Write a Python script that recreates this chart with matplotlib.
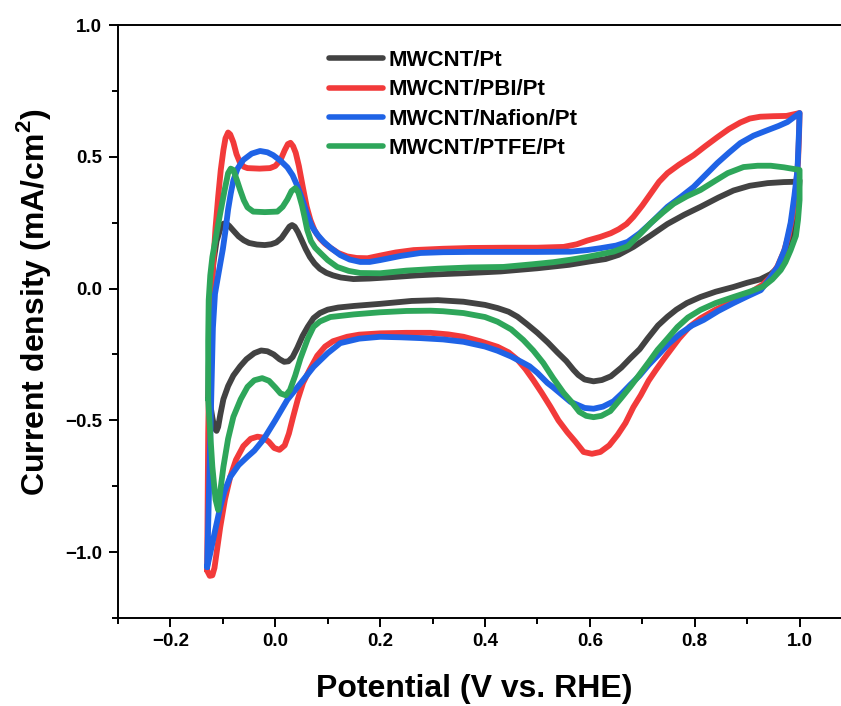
import matplotlib
matplotlib.use("Agg")
import matplotlib.pyplot as plt
from matplotlib.ticker import MultipleLocator

plt.rcParams['font.family'] = ['Liberation Sans', 'DejaVu Sans']
plt.rcParams['font.weight'] = 'bold'
plt.rcParams['axes.labelweight'] = 'bold'
plt.rcParams['mathtext.fontset'] = 'custom'
plt.rcParams['mathtext.bf'] = 'Liberation Sans:bold'
plt.rcParams['mathtext.rm'] = 'Liberation Sans:bold'

labels = ["MWCNT/Pt", "MWCNT/PBI/Pt", "MWCNT/Nafion/Pt", "MWCNT/PTFE/Pt"]
colors = ["#424242", "#f23a3a", "#1f63e6", "#2ea65a"]

# ---- MWCNT/Pt : anodic (up) and cathodic (dn) branches, (potential, current) ----
pt_up = [(-0.128, -0.42), (-0.127, -0.3), (-0.125, -0.15), (-0.122, 0.0), (-0.118, 0.1), (-0.112, 0.18),
         (-0.105, 0.225), (-0.099, 0.246), (-0.094, 0.248), (-0.088, 0.238), (-0.08, 0.22), (-0.07, 0.198),
         (-0.06, 0.183), (-0.05, 0.173), (-0.035, 0.167), (-0.02, 0.165), (-0.008, 0.168), (0.002, 0.175),
         (0.012, 0.192), (0.02, 0.215), (0.027, 0.235), (0.032, 0.241), (0.037, 0.235), (0.043, 0.215),
         (0.05, 0.185), (0.058, 0.15), (0.066, 0.12), (0.075, 0.095), (0.085, 0.075), (0.097, 0.06),
         (0.11, 0.05), (0.125, 0.042), (0.149, 0.036), (0.18, 0.038), (0.22, 0.043), (0.27, 0.05),
         (0.31, 0.054), (0.37, 0.059), (0.43, 0.065), (0.5, 0.077), (0.56, 0.09), (0.6, 0.103),
         (0.63, 0.112), (0.655, 0.128), (0.683, 0.158), (0.715, 0.2), (0.748, 0.245), (0.78, 0.28),
         (0.811, 0.31), (0.845, 0.345), (0.874, 0.372), (0.905, 0.39), (0.939, 0.40), (0.97, 0.404),
         (0.989, 0.405), (1.0, 0.41)]
pt_dn = [(1.0, 0.41), (0.997, 0.33), (0.992, 0.25), (0.985, 0.18), (0.975, 0.125), (0.962, 0.085),
         (0.945, 0.055), (0.925, 0.035), (0.9, 0.022), (0.874, 0.006), (0.84, -0.012), (0.811, -0.032),
         (0.785, -0.055), (0.765, -0.08), (0.748, -0.107), (0.73, -0.14), (0.71, -0.19), (0.695, -0.23),
         (0.677, -0.265), (0.66, -0.3), (0.64, -0.333), (0.623, -0.347), (0.607, -0.352), (0.59, -0.345),
         (0.578, -0.328), (0.569, -0.309), (0.555, -0.275), (0.538, -0.242), (0.52, -0.205), (0.5, -0.168),
         (0.48, -0.135), (0.462, -0.107), (0.445, -0.088), (0.424, -0.074), (0.4, -0.062), (0.359, -0.05),
         (0.31, -0.044), (0.26, -0.047), (0.2, -0.058), (0.15, -0.066), (0.12, -0.072), (0.1, -0.08),
         (0.085, -0.093), (0.073, -0.112), (0.062, -0.145), (0.052, -0.18), (0.042, -0.225), (0.033, -0.26),
         (0.025, -0.276), (0.017, -0.278), (0.008, -0.268), (-0.003, -0.25), (-0.015, -0.238),
         (-0.027, -0.235), (-0.04, -0.245), (-0.055, -0.268), (-0.067, -0.295), (-0.08, -0.33),
         (-0.09, -0.37), (-0.099, -0.42), (-0.105, -0.48), (-0.109, -0.525), (-0.112, -0.54),
         (-0.116, -0.53), (-0.12, -0.49), (-0.124, -0.44), (-0.128, -0.42)]

# ---- MWCNT/PBI/Pt ----
pbi_up = [(-0.13, -1.07), (-0.129, -0.8), (-0.128, -0.55), (-0.126, -0.3), (-0.124, -0.12), (-0.121, 0.0),
          (-0.118, 0.108), (-0.114, 0.23), (-0.109, 0.347), (-0.104, 0.45), (-0.099, 0.525), (-0.095, 0.57),
          (-0.09, 0.592), (-0.086, 0.585), (-0.08, 0.555), (-0.074, 0.51), (-0.067, 0.476), (-0.06, 0.462),
          (-0.053, 0.457), (-0.03, 0.455), (-0.01, 0.457), (0.0, 0.465), (0.01, 0.488), (0.018, 0.525),
          (0.024, 0.548), (0.029, 0.553), (0.034, 0.54), (0.039, 0.515), (0.045, 0.465), (0.053, 0.38),
          (0.06, 0.31), (0.067, 0.26), (0.075, 0.22), (0.085, 0.19), (0.095, 0.17), (0.105, 0.155),
          (0.12, 0.135), (0.137, 0.122), (0.155, 0.116), (0.176, 0.115), (0.2, 0.125), (0.23, 0.137),
          (0.264, 0.146), (0.32, 0.151), (0.372, 0.154), (0.44, 0.155), (0.5, 0.155), (0.55, 0.158),
          (0.575, 0.168), (0.595, 0.182), (0.62, 0.196), (0.64, 0.21), (0.655, 0.225), (0.67, 0.245),
          (0.683, 0.272), (0.7, 0.315), (0.716, 0.36), (0.732, 0.405), (0.748, 0.438), (0.77, 0.47),
          (0.798, 0.506), (0.82, 0.54), (0.843, 0.574), (0.865, 0.605), (0.887, 0.63), (0.905, 0.645),
          (0.925, 0.652), (0.95, 0.654), (0.975, 0.655), (1.0, 0.666)]
pbi_dn = [(1.0, 0.666), (0.999, 0.58), (0.997, 0.48), (0.993, 0.38), (0.987, 0.28), (0.979, 0.2),
          (0.97, 0.14), (0.958, 0.085), (0.945, 0.045), (0.93, 0.015), (0.91, -0.01), (0.874, -0.048),
          (0.84, -0.08), (0.811, -0.113), (0.79, -0.145), (0.77, -0.19), (0.755, -0.23), (0.74, -0.27),
          (0.726, -0.309), (0.712, -0.35), (0.697, -0.405), (0.683, -0.45), (0.668, -0.51), (0.653, -0.555),
          (0.637, -0.595), (0.62, -0.62), (0.604, -0.627), (0.588, -0.62), (0.572, -0.58), (0.557, -0.545),
          (0.54, -0.5), (0.525, -0.449), (0.508, -0.395), (0.492, -0.347), (0.477, -0.305), (0.462, -0.27),
          (0.445, -0.242), (0.424, -0.221), (0.391, -0.2), (0.359, -0.183), (0.33, -0.174), (0.296, -0.168),
          (0.25, -0.168), (0.2, -0.17), (0.16, -0.175), (0.137, -0.183), (0.11, -0.2), (0.095, -0.22),
          (0.08, -0.255), (0.065, -0.31), (0.053, -0.358), (0.043, -0.42), (0.034, -0.487), (0.026, -0.55),
          (0.018, -0.595), (0.008, -0.612), (-0.002, -0.605), (-0.012, -0.582), (-0.022, -0.566),
          (-0.034, -0.562), (-0.047, -0.57), (-0.061, -0.598), (-0.075, -0.65), (-0.086, -0.715),
          (-0.096, -0.8), (-0.105, -0.905), (-0.111, -0.99), (-0.116, -1.06), (-0.12, -1.088),
          (-0.125, -1.09), (-0.13, -1.07)]

# ---- MWCNT/Nafion/Pt ----
naf_up = [(-0.13, -1.057), (-0.128, -0.9), (-0.125, -0.65), (-0.122, -0.4), (-0.119, -0.15), (-0.115, -0.02),
          (-0.108, 0.06), (-0.1, 0.15), (-0.095, 0.22), (-0.09, 0.3), (-0.085, 0.36), (-0.08, 0.41),
          (-0.072, 0.455), (-0.061, 0.488), (-0.045, 0.512), (-0.029, 0.522), (-0.015, 0.517), (-0.004, 0.506),
          (0.01, 0.485), (0.023, 0.46), (0.033, 0.43), (0.042, 0.39), (0.052, 0.335), (0.061, 0.28),
          (0.07, 0.235), (0.08, 0.205), (0.092, 0.178), (0.105, 0.155), (0.124, 0.127), (0.142, 0.11),
          (0.162, 0.101), (0.18, 0.101), (0.2, 0.108), (0.24, 0.124), (0.277, 0.135), (0.32, 0.138),
          (0.372, 0.139), (0.5, 0.139), (0.563, 0.14), (0.595, 0.146), (0.62, 0.153), (0.65, 0.163),
          (0.672, 0.177), (0.695, 0.21), (0.716, 0.248), (0.748, 0.31), (0.775, 0.35), (0.798, 0.386),
          (0.82, 0.43), (0.843, 0.476), (0.865, 0.515), (0.887, 0.552), (0.912, 0.58), (0.939, 0.601),
          (0.96, 0.617), (0.977, 0.632), (1.0, 0.666)]
naf_dn = [(1.0, 0.666), (0.999, 0.6), (0.998, 0.55), (0.996, 0.45), (0.99, 0.35), (0.983, 0.25), (0.972, 0.15),
          (0.958, 0.082), (0.94, 0.03), (0.926, -0.006), (0.9, -0.03), (0.874, -0.055), (0.845, -0.085),
          (0.817, -0.119), (0.795, -0.14), (0.773, -0.17), (0.75, -0.21), (0.729, -0.255), (0.712, -0.29),
          (0.695, -0.33), (0.677, -0.365), (0.66, -0.4), (0.645, -0.428), (0.625, -0.448), (0.607, -0.456),
          (0.59, -0.453), (0.575, -0.44), (0.563, -0.43), (0.545, -0.4), (0.53, -0.375), (0.519, -0.358),
          (0.5, -0.32), (0.485, -0.295), (0.473, -0.282), (0.45, -0.258), (0.424, -0.236), (0.4, -0.22),
          (0.359, -0.202), (0.32, -0.193), (0.277, -0.188), (0.24, -0.185), (0.2, -0.183), (0.16, -0.19),
          (0.124, -0.207), (0.1, -0.245), (0.073, -0.297), (0.05, -0.355), (0.023, -0.422), (0.0, -0.5),
          (-0.023, -0.574), (-0.04, -0.615), (-0.053, -0.638), (-0.07, -0.67), (-0.086, -0.715),
          (-0.097, -0.77), (-0.105, -0.829), (-0.115, -0.92), (-0.124, -1.004), (-0.13, -1.057)]

# ---- MWCNT/PTFE/Pt ----
ptfe_up = [(-0.128, -0.42), (-0.128, -0.2), (-0.127, -0.044), (-0.124, 0.05), (-0.12, 0.12), (-0.112, 0.21),
           (-0.105, 0.286), (-0.097, 0.37), (-0.09, 0.438), (-0.085, 0.455), (-0.08, 0.45), (-0.073, 0.41),
           (-0.067, 0.374), (-0.06, 0.335), (-0.053, 0.308), (-0.042, 0.292), (-0.02, 0.29), (0.004, 0.292),
           (0.014, 0.31), (0.023, 0.338), (0.031, 0.37), (0.038, 0.381), (0.044, 0.365), (0.051, 0.315),
           (0.056, 0.27), (0.061, 0.222), (0.068, 0.18), (0.076, 0.155), (0.086, 0.135), (0.1, 0.108),
           (0.118, 0.082), (0.14, 0.067), (0.162, 0.059), (0.2, 0.058), (0.25, 0.068), (0.309, 0.075),
           (0.37, 0.08), (0.435, 0.082), (0.49, 0.092), (0.53, 0.1), (0.565, 0.11), (0.595, 0.12),
           (0.62, 0.13), (0.645, 0.14), (0.672, 0.16), (0.695, 0.205), (0.716, 0.248), (0.74, 0.29),
           (0.76, 0.322), (0.785, 0.35), (0.811, 0.374), (0.84, 0.41), (0.863, 0.438), (0.893, 0.461),
           (0.92, 0.466), (0.945, 0.466), (0.97, 0.46), (1.0, 0.45)]
ptfe_dn = [(1.0, 0.45), (1.0, 0.336), (0.997, 0.26), (0.993, 0.2), (0.983, 0.146), (0.973, 0.1), (0.964, 0.07),
           (0.948, 0.035), (0.931, 0.008), (0.905, -0.012), (0.874, -0.032), (0.84, -0.055), (0.811, -0.081),
           (0.787, -0.11), (0.767, -0.146), (0.748, -0.19), (0.729, -0.233), (0.712, -0.28), (0.691, -0.336),
           (0.677, -0.373), (0.66, -0.415), (0.639, -0.465), (0.622, -0.483), (0.607, -0.488), (0.593, -0.483),
           (0.58, -0.468), (0.565, -0.43), (0.55, -0.396), (0.53, -0.34), (0.511, -0.282), (0.492, -0.235),
           (0.473, -0.195), (0.45, -0.155), (0.424, -0.126), (0.4, -0.108), (0.359, -0.093), (0.32, -0.086),
           (0.296, -0.084), (0.25, -0.085), (0.2, -0.09), (0.15, -0.098), (0.105, -0.108), (0.085, -0.125),
           (0.073, -0.145), (0.062, -0.19), (0.048, -0.265), (0.038, -0.33), (0.028, -0.385), (0.02, -0.405),
           (0.01, -0.398), (0.0, -0.375), (-0.012, -0.35), (-0.025, -0.34), (-0.04, -0.348), (-0.053, -0.373),
           (-0.066, -0.42), (-0.08, -0.487), (-0.09, -0.57), (-0.099, -0.677), (-0.105, -0.77),
           (-0.109, -0.84), (-0.114, -0.8), (-0.12, -0.677), (-0.125, -0.52), (-0.128, -0.42)]

series = [pt_up + pt_dn, pbi_up + pbi_dn, naf_up + naf_dn, ptfe_up + ptfe_dn]

fig = plt.figure(figsize=(8.41, 7.06), dpi=100)
ax = fig.add_axes([118/841, 88/706, 734/841, 593/706])

for pts, c, lab in zip(series, colors, labels):
    xs = [p[0] for p in pts]
    ys = [p[1] for p in pts]
    ax.plot(xs, ys, color=c, lw=4.2, label=lab, solid_joinstyle='round', solid_capstyle='round')

ax.set_xlim(-0.3, 1.1)
ax.set_ylim(-1.25, 1.0)
ax.xaxis.set_minor_locator(MultipleLocator(0.1))
ax.yaxis.set_minor_locator(MultipleLocator(0.25))
ax.set_xticks([-0.2, 0.0, 0.2, 0.4, 0.6, 0.8, 1.0])
ax.set_xticklabels(["\u22120.2", "0.0", "0.2", "0.4", "0.6", "0.8", "1.0"])
ax.set_yticks([-1.0, -0.5, 0.0, 0.5, 1.0])
ax.set_yticklabels(["\u22121.0", "\u22120.5", "0.0", "0.5", "1.0"])

for s in ax.spines.values():
    s.set_linewidth(1.4)
ax.tick_params(which='major', direction='out', length=6.5, width=1.4, labelsize=13.5, pad=5)
ax.tick_params(which='minor', direction='out', length=4, width=1.4)
ax.tick_params(axis='x', which='major', pad=4)

ax.set_xlabel("Potential (V vs. RHE)", fontsize=23, fontweight='bold')
ax.set_ylabel("Current density (mA/cm$^{\\mathbf{2}}$)", fontsize=23, fontweight='bold')
ax.xaxis.set_label_coords(0.486, -0.095)
ax.yaxis.set_label_coords(-0.088, 0.533)

leg = ax.legend(loc='upper left', bbox_to_anchor=(0.288, 0.958), frameon=False, fontsize=16,
                handlelength=2.4, handletextpad=0.27, labelspacing=0.38, borderpad=0, borderaxespad=0)
for line in leg.get_lines():
    line.set_linewidth(4.0)
for t in leg.get_texts():
    t.set_fontweight('bold')

fig.savefig("out.png", dpi=100, facecolor='white')
